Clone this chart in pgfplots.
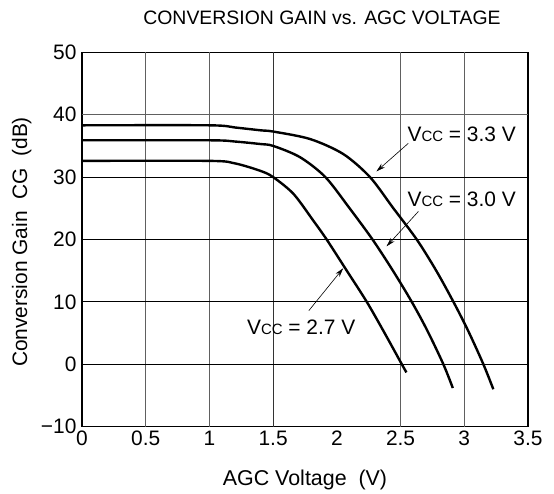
\documentclass[border=0pt]{standalone}
\usepackage{fontspec}
\setmainfont{Liberation Sans}
\usepackage{pgfplots}
\pgfplotsset{compat=1.18}
\usetikzlibrary{arrows.meta}
\newcommand{\lab}[1]{V{\fontsize{15}{15}\selectfont CC} = #1 V}
\begin{document}
\begin{tikzpicture}
\begin{axis}[
  at={(82bp,67.3bp)}, anchor=south west,
  scale only axis, width=446bp, height=374.4bp,
  xmin=0, xmax=3.5, ymin=-10, ymax=50,
  xtick={0,0.5,1,1.5,2,2.5,3,3.5},
  xticklabels={0,0.5,1,1.5,2,2.5,3,3.5},
  ytick={-10,0,10,20,30,40,50},
  yticklabels={−10,0,10,20,30,40,50},
  major tick length=0pt,
  axis line style={line width=1.6bp},
  ticklabel style={font=\fontsize{21}{22}\selectfont},
  xticklabel style={yshift=-0.5bp},
  yticklabel style={xshift=-2bp},
]
% grid
\draw[gray!75!black, line width=1.2bp] (axis cs:0.5,-10) -- (axis cs:0.5,50);
\draw[gray!75!black, line width=1.2bp] (axis cs:1,-10) -- (axis cs:1,50);
\draw[gray!40!black, line width=1.2bp] (axis cs:1.5,-10) -- (axis cs:1.5,50);
\draw[gray!75!black, line width=1.2bp] (axis cs:2.5,-10) -- (axis cs:2.5,50);
\draw[gray!75!black, line width=1.2bp] (axis cs:3,-10) -- (axis cs:3,50);
\draw[black, line width=0.9bp] (axis cs:0,0) -- (axis cs:3.5,0);
\draw[black, line width=0.9bp] (axis cs:0,10) -- (axis cs:3.5,10);
\draw[black, line width=0.9bp] (axis cs:0,20) -- (axis cs:3.5,20);
\draw[black, line width=0.9bp] (axis cs:0,30) -- (axis cs:3.5,30);
\draw[gray!75!black, line width=1.2bp] (axis cs:0,40) -- (axis cs:3.5,40);
% curves
\addplot[black, line width=2.4bp, smooth, tension=0.5] coordinates {
 (0,38.3) (1.0,38.3) (1.2,37.95) (1.4,37.5) (1.5,37.3) (1.79,36.1) (2.05,33.7)
 (2.26,30) (2.44,25.1) (2.627,20) (2.78,15) (2.915,10) (3.032,5.3) (3.15,0) (3.228,-4.0)};
\addplot[black, line width=2.4bp, smooth, tension=0.5] coordinates {
 (0,35.9) (1.0,35.9) (1.2,35.7) (1.4,35.3) (1.5,35.0) (1.71,33.2) (1.91,30)
 (2.10,25) (2.28,20) (2.44,15) (2.588,10) (2.71,5.4) (2.836,0) (2.91,-3.8)};
\addplot[black, line width=2.4bp, smooth, tension=0.5] coordinates {
 (0,32.6) (1.0,32.6) (1.2,32.2) (1.4,31.0) (1.5,30) (1.66,27.3) (1.816,23)
 (1.92,20) (2.078,15) (2.235,10) (2.375,5) (2.51,0) (2.546,-1.3)};
% arrows and labels
\draw[-{Stealth[length=9bp,width=5bp]}, line width=0.6bp] (axis cs:2.56,35.4) -- (axis cs:2.31,30.9);
\draw[-{Stealth[length=9bp,width=5bp]}, line width=0.6bp] (axis cs:2.64,24.5) -- (axis cs:2.39,18.9);
\draw[-{Stealth[length=9bp,width=5bp]}, line width=0.6bp] (axis cs:1.78,8.6) -- (axis cs:2.05,15.4);
\node[font=\fontsize{21}{22}\selectfont] at (axis cs:2.98,36.9) {\lab{3.3}};
\node[font=\fontsize{21}{22}\selectfont] at (axis cs:2.98,26.5) {\lab{3.0}};
\node[font=\fontsize{21}{22}\selectfont] at (axis cs:1.72,5.9) {\lab{2.7}};
\end{axis}
\node[font=\fontsize{19.5}{20}\selectfont] at (322bp,476bp) {CONVERSION GAIN vs. AGC VOLTAGE};
\node[font=\fontsize{21.5}{22}\selectfont] at (305bp,14bp) {AGC Voltage\ \ (V)};
\node[font=\fontsize{21}{22}\selectfont, rotate=90] at (21.7bp,252bp) {Conversion Gain\ \ CG\ \ (dB)};
\pgfresetboundingbox
\path[use as bounding box] (0,0) rectangle (554bp,494bp);
\end{tikzpicture}
\end{document}
